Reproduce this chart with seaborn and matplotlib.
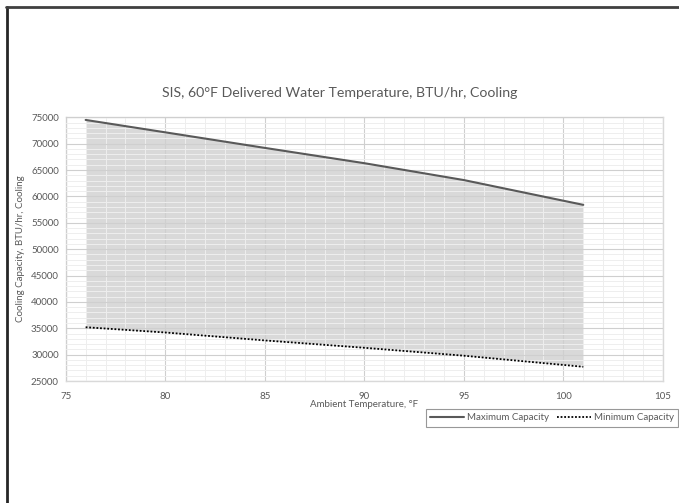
"""SIS cooling capacity envelope chart."""

import matplotlib

matplotlib.use("Agg")

import matplotlib.pyplot as plt
import pandas as pd
import seaborn as sns
from matplotlib.lines import Line2D
from matplotlib.ticker import MultipleLocator

ambient_temp = [76, 80, 85, 90, 95, 101]
max_capacity = [74500, 72150, 69200, 66300, 63100, 58400]
min_capacity = [35200, 34200, 32700, 31300, 29800, 27700]

title = "SIS, 60°F Delivered Water Temperature, BTU/hr, Cooling"
x_label = "Ambient Temperature, °F"
y_label = "Cooling Capacity, BTU/hr, Cooling"

TEXT_GRAY = "#595959"

sns.set_theme(style="white")
plt.rcParams["font.family"] = ["Lato", "DejaVu Sans"]

df = pd.DataFrame({"temp": ambient_temp, "max": max_capacity, "min": min_capacity})

fig = plt.figure(figsize=(6.79, 5.03), dpi=100)
ax = fig.add_axes([0.0968, 0.2425, 0.8795, 0.5243])

ax.fill_between(df["temp"], df["min"], df["max"], color="#d9d9d9", linewidth=0, zorder=1)
sns.lineplot(data=df, x="temp", y="max", ax=ax, color="#595959", linewidth=1.5,
             label="Maximum Capacity", zorder=3)
sns.lineplot(data=df, x="temp", y="min", ax=ax, color="black", linewidth=1.3,
             linestyle=(0, (1, 1)), label="Minimum Capacity", zorder=3)

ax.set_xlim(75, 105)
ax.set_ylim(25000, 75000)
ax.xaxis.set_major_locator(MultipleLocator(5))
ax.xaxis.set_minor_locator(MultipleLocator(1))
ax.yaxis.set_major_locator(MultipleLocator(5000))
ax.yaxis.set_minor_locator(MultipleLocator(1000))
ax.grid(which="major", color="#cfcfcf", linewidth=0.8, zorder=2)
ax.grid(which="minor", color="#eeeeee", linewidth=0.7, zorder=0)
ax.set_axisbelow(False)
for spine in ax.spines.values():
    spine.set_color("#d9d9d9")
    spine.set_linewidth(1)
ax.tick_params(which="both", length=0, labelsize=7, colors=TEXT_GRAY)
ax.tick_params(axis="x", pad=8)
ax.tick_params(axis="y", pad=5)

fig.text(340 / 679, 1 - 93 / 503, title, fontsize=10.2, color=TEXT_GRAY,
         ha="center", va="center")
ax.set_xlabel(x_label, fontsize=7, color=TEXT_GRAY, labelpad=-1)
ax.set_ylabel(y_label, fontsize=7, color=TEXT_GRAY, labelpad=4)

leg = ax.legend(loc="upper right", bbox_to_anchor=(678 / 679, 1 - 409 / 503),
                bbox_transform=fig.transFigure, ncol=2, fontsize=7, frameon=True,
                fancybox=False, handlelength=3.5, columnspacing=0.8, borderpad=0.45,
                handletextpad=0.3, borderaxespad=0)
leg.get_frame().set_edgecolor("#7f7f7f")
leg.get_frame().set_linewidth(0.8)
for text in leg.get_texts():
    text.set_color(TEXT_GRAY)

# outer chart border (left and top edges only)
fig.add_artist(Line2D([7 / 679, 7 / 679], [0, 1 - 7 / 503], color="#262626", linewidth=2))
fig.add_artist(Line2D([6 / 679, 1], [1 - 7 / 503, 1 - 7 / 503], color="#404040", linewidth=2))

fig.savefig("out.png", dpi=100)
